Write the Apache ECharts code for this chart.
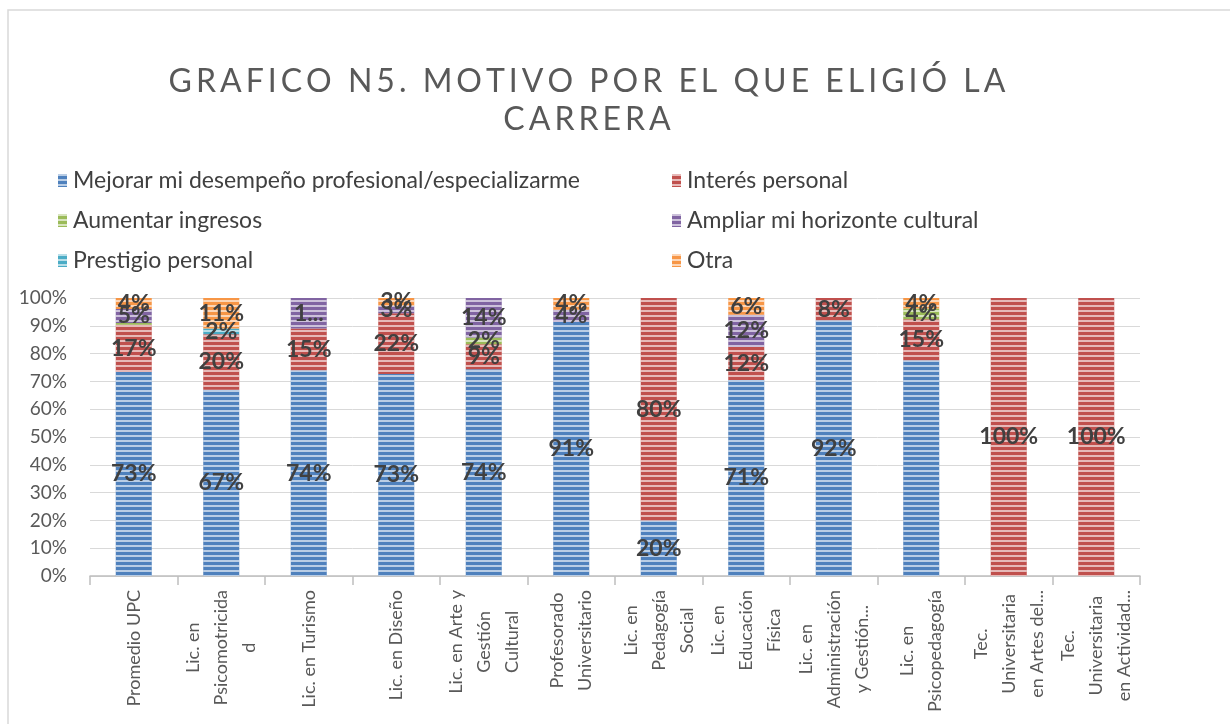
<!DOCTYPE html>
<html>
<head>
<meta charset="utf-8">
<script src="https://cdn.jsdelivr.net/npm/echarts@6/dist/echarts.min.js"></script>
<style>
html,body{margin:0;padding:0;background:#fff;}
#chart{width:1230px;height:724px;}
</style>
</head>
<body>
<div id="chart"></div>
<script>
// ---- data ----
const titleLines = ['GRAFICO N5. MOTIVO POR EL QUE ELIGIÓ LA', 'CARRERA'];
const categories = [
  'Promedio UPC',
  'Lic. en\nPsicomotricida\nd',
  'Lic. en Turismo',
  'Lic. en Diseño',
  'Lic. en Arte y\nGestión\nCultural',
  'Profesorado\nUniversitario',
  'Lic. en\nPedagogía\nSocial',
  'Lic. en\nEducación\nFísica',
  'Lic. en\nAdministración\ny Gestión...',
  'Lic. en\nPsicopedagogía',
  'Tec.\nUniversitaria\nen Artes del...',
  'Tec.\nUniversitaria\nen Actividad...'
];
const seriesNames = [
  'Mejorar mi desempeño profesional/especializarme',
  'Interés personal',
  'Aumentar ingresos',
  'Ampliar mi horizonte cultural',
  'Prestigio personal',
  'Otra'
];
const mejorar   = [73.4, 67, 74, 72.7, 74.4, 91.4, 20, 70.5, 92, 77.6, null, null];
const interes   = [17, 20, 15, 21.8, 9, null, 80, 11.9, 8, 14.8, 100, 100];
const aumentar  = [0.6, null, null, null, 2.4, null, null, null, null, 3.8, null, null];
const ampliar   = [5, null, 11, 2.7, 14.2, 4.4, null, 11.6, null, null, null, null];
const prestigio = [null, 2, null, null, null, null, null, null, null, null, null, null];
const otra      = [4, 11, null, 2.8, null, 4.2, null, 6, null, 3.8, null, null];
const yTicks = [0, 10, 20, 30, 40, 50, 60, 70, 80, 90, 100];
// label quirks seen in the original (series index, category index)
const hiddenLabels = [[0, 9]];
const labelOverrides = [[3, 2, '1...']];

const colors = ['#4f81bd', '#c0504d', '#9bbb59', '#8064a2', '#4bacc6', '#f79646'];
const values = [mejorar, interes, aumentar, ampliar, prestigio, otra];

// wide letter spacing for the title (inserted hair spaces)
const titleFont = '32px Lato';
const titleTargetWidth = 835;
function spacedTitle(lines) {
  const ctx = document.createElement('canvas').getContext('2d');
  ctx.font = titleFont;
  const w0 = ctx.measureText(lines[0]).width;
  const h = ctx.measureText('\u200A').width || 2;
  const gaps = lines[0].length - 1;
  const n = Math.max(1, Math.floor((titleTargetWidth - w0) / (gaps * h)));
  const sep = '\u200A'.repeat(n);
  return lines.map(l => l.split('').join(sep)).join('\n');
}

const chart = echarts.init(document.getElementById('chart'), null, {renderer: 'canvas'});

const series = values.map((arr, si) => ({
  name: seriesNames[si],
  type: 'bar',
  stack: 'total',
  barWidth: 36,
  data: arr,
  itemStyle: {
    color: colors[si],
    decal: {
      symbol: 'rect',
      symbolSize: 1,
      dashArrayX: [1, 0],
      dashArrayY: [1.3, 2.7],
      color: 'rgba(255,255,255,0.6)',
      rotation: 0
    }
  },
  label: {
    show: true,
    position: 'inside',
    fontFamily: 'Lato',
    fontWeight: 'bold',
    fontSize: 23,
    color: '#404040',
    formatter: function (p) {
      for (const h of hiddenLabels) if (h[0] === si && h[1] === p.dataIndex) return '';
      for (const o of labelOverrides) if (o[0] === si && o[1] === p.dataIndex) return o[2];
      if (p.value == null || p.value < 1) return '';
      return Math.round(p.value) + '%';
    }
  }
}));

const legendCommon = {
  orient: 'vertical',
  icon: 'rect',
  itemWidth: 9,
  itemHeight: 13,
  itemGap: 17,
  textStyle: {fontFamily: 'Lato', fontSize: 23, color: '#404040', lineHeight: 23, padding: [0, 0, 0, 1]}
};

const option = {
  backgroundColor: '#ffffff',
  animation: false,
  color: colors,
  title: {
    text: spacedTitle(titleLines),
    left: 582,
    top: 58,
    textAlign: 'center',
    textStyle: {fontFamily: 'Lato', fontWeight: 'normal', fontSize: 32, lineHeight: 38, color: '#595959'}
  },
  legend: [
    Object.assign({}, legendCommon, {left: 53, top: 164, data: [seriesNames[0], seriesNames[2], seriesNames[4]]}),
    Object.assign({}, legendCommon, {left: 667, top: 164, data: [seriesNames[1], seriesNames[3], seriesNames[5]]})
  ],
  grid: {left: 90, right: 90, top: 298, bottom: 148, containLabel: false},
  xAxis: {
    type: 'category',
    data: categories,
    axisLine: {show: true, lineStyle: {color: '#bfbfbf', width: 1.5}},
    axisTick: {show: true, length: 9, interval: 0, lineStyle: {color: '#bfbfbf', width: 1.5}},
    axisLabel: {
      interval: 0,
      rotate: 90,
      margin: 14,
      color: '#595959',
      formatter: function (v) { return v.split('\n').map(l => '{c|' + l + '}').join('\n'); },
      rich: {c: {align: 'center', fontFamily: 'Lato', fontSize: 18, lineHeight: 28, color: '#595959'}}
    }
  },
  yAxis: {
    type: 'value',
    min: yTicks[0],
    max: yTicks[yTicks.length - 1],
    interval: yTicks[1] - yTicks[0],
    axisLine: {show: false},
    axisTick: {show: false},
    splitLine: {lineStyle: {color: '#d9d9d9', width: 1}},
    axisLabel: {formatter: '{value}%', fontFamily: 'Lato', fontSize: 19, color: '#595959', margin: 23}
  },
  graphic: [{
    type: 'rect',
    shape: {x: 8, y: 10, width: 1240, height: 740},
    style: {fill: 'none', stroke: '#d9d9d9', lineWidth: 1.5},
    silent: true,
    z: -1
  }],
  series: series
};
chart.setOption(option);
</script>
</body>
</html>
